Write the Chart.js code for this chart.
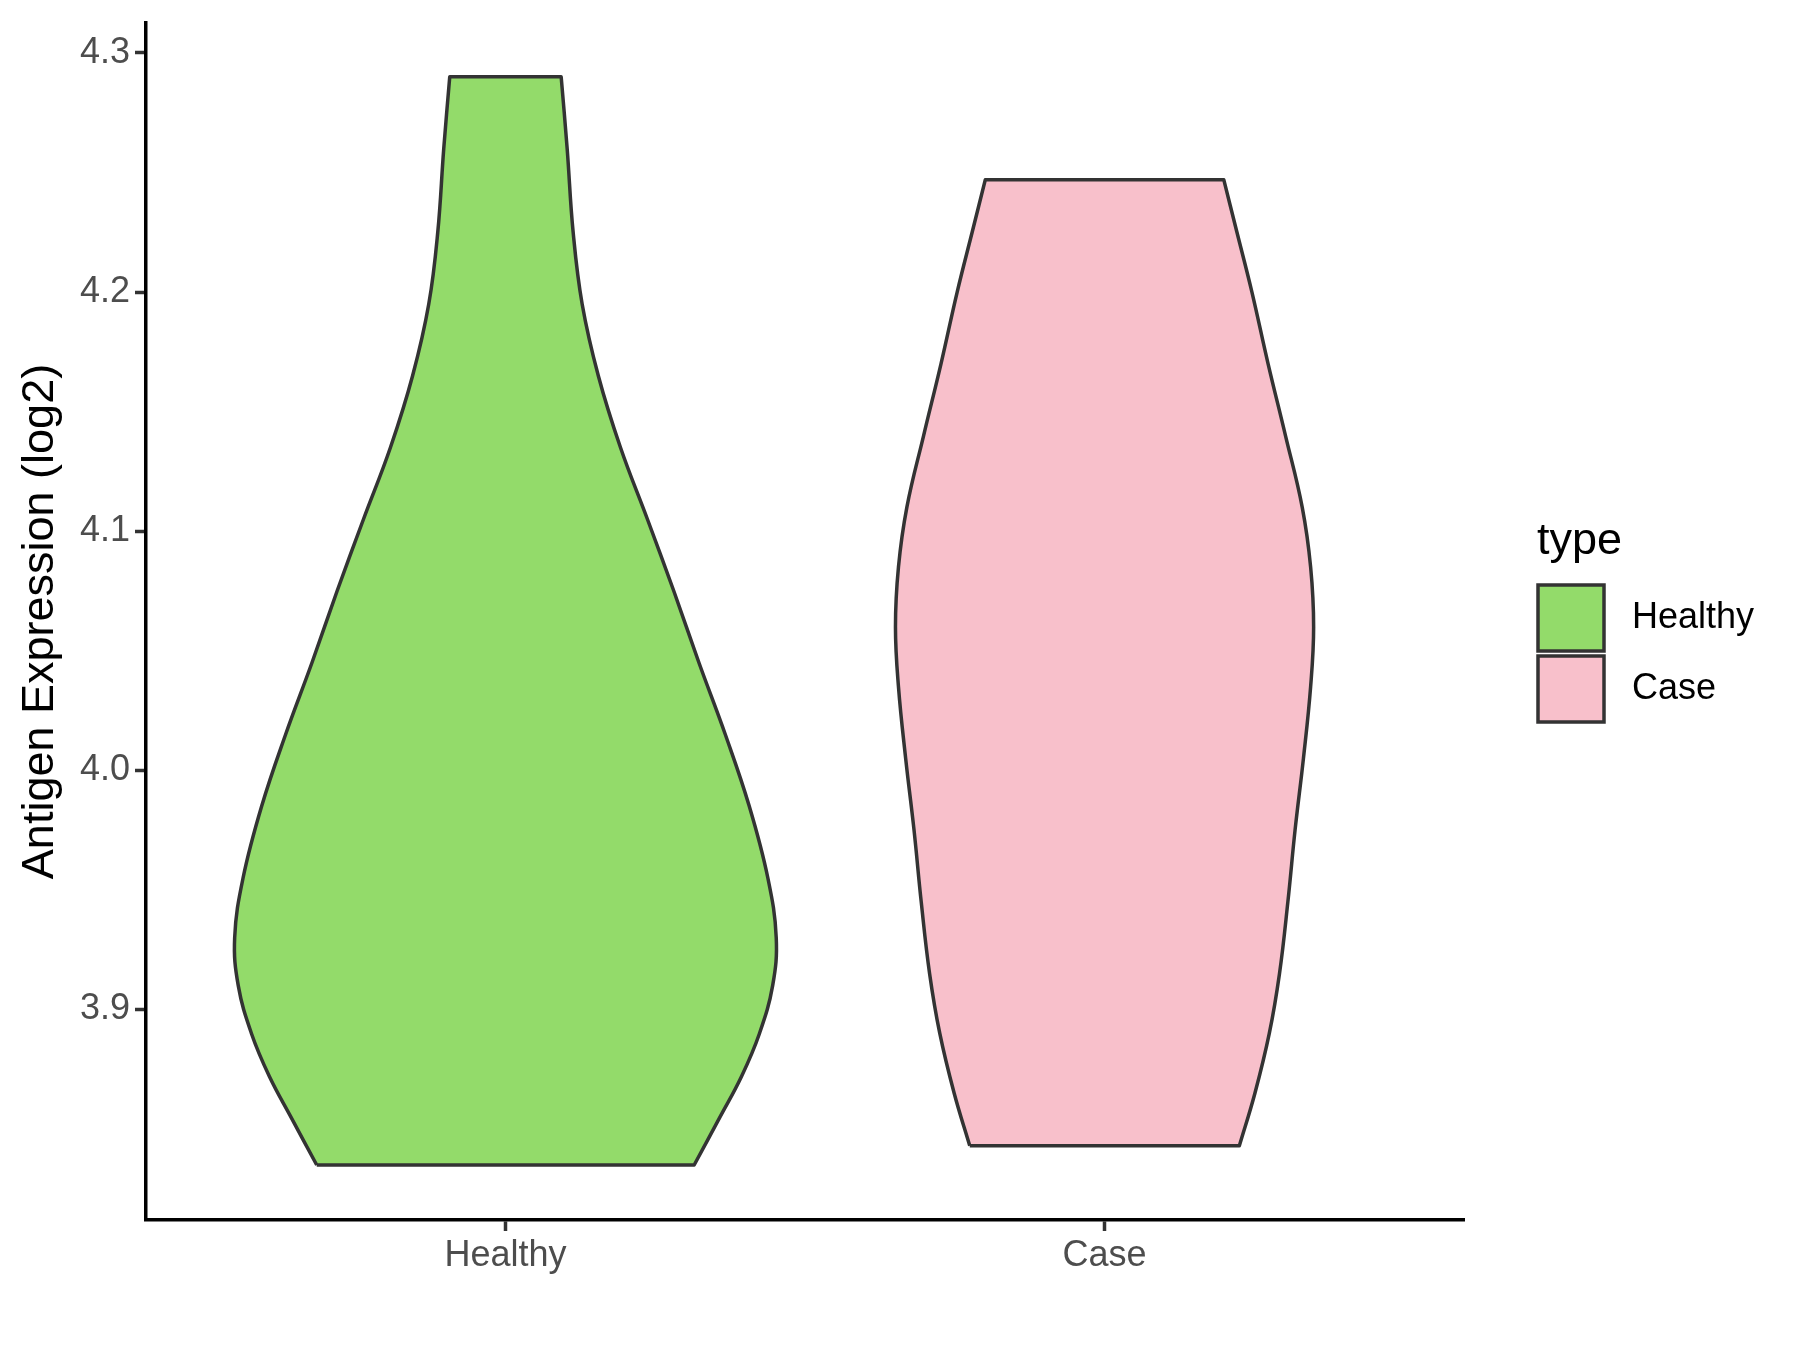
<!DOCTYPE html>
<html>
<head>
<meta charset="utf-8">
<script src="https://cdn.jsdelivr.net/npm/chart.js@4.4.1/dist/chart.umd.min.js"></script>
<style>
html, body { margin: 0; padding: 0; background: white; }
#wrap { width: 1800px; height: 1350px; }
</style>
</head>
<body>
<div id="wrap"><canvas id="violin"></canvas></div>
<script>
const categories = ['Healthy', 'Case'];
const fillColors = ['#93DB6A', '#F8C0CB'];
const yTicks = [3.9, 4.0, 4.1, 4.2, 4.3];

// violin outlines: expression value and half width (in category units)
const healthyY = [3.835, 3.855, 3.872, 3.890, 3.910, 3.930, 3.955, 3.985, 4.015, 4.045, 4.075, 4.105, 4.135, 4.165, 4.195, 4.225, 4.260, 4.290];
const healthyWidth = [0.315, 0.358, 0.394, 0.424, 0.446, 0.452, 0.438, 0.407, 0.367, 0.323, 0.281, 0.237, 0.192, 0.155, 0.128, 0.113, 0.103, 0.093];
const caseY = [3.843, 3.865, 3.890, 3.915, 3.945, 3.975, 4.005, 4.035, 4.060, 4.085, 4.110, 4.140, 4.170, 4.200, 4.225, 4.247];
const caseWidth = [0.225, 0.251, 0.275, 0.292, 0.306, 0.318, 0.332, 0.344, 0.349, 0.344, 0.330, 0.302, 0.273, 0.246, 0.221, 0.199];

const FONT = '"Liberation Sans", Arial, sans-serif';
Chart.defaults.font.family = FONT;

function outline(center, ys, ws) {
    const left = ys.map((y, i) => ({ x: center - ws[i], y: y }));
    const right = ys.map((y, i) => ({ x: center + ws[i], y: y })).reverse();
    const n = ys.length;
    // corners are repeated so the flat ends stay straight with tension on
    return [].concat(left.slice(0, n - 1), [left[n - 1], left[n - 1]],
        [right[0], right[0]], right.slice(1, n - 1), [right[n - 1], right[n - 1]], [left[0]]);
}

const legendPlugin = {
    id: 'typeLegend',
    afterDraw: (chart) => {
        const ctx = chart.ctx;
        ctx.save();
        ctx.fillStyle = 'black';
        ctx.font = '45px ' + FONT;
        ctx.textBaseline = 'alphabetic';
        ctx.fillText('type', 1537, 554);
        categories.forEach((c, i) => {
            const top = 585 + i * 71;
            ctx.fillStyle = fillColors[i];
            ctx.fillRect(1538, top, 66, 66);
            ctx.lineWidth = 3.5;
            ctx.strokeStyle = '#333333';
            ctx.strokeRect(1538, top, 66, 66);
            ctx.fillStyle = 'black';
            ctx.font = '36px ' + FONT;
            ctx.textBaseline = 'middle';
            ctx.fillText(c, 1632, top + 33);
        });
        ctx.restore();
    }
};

new Chart(document.getElementById('violin'), {
    type: 'scatter',
    plugins: [legendPlugin],
    data: {
        datasets: [
            {
                label: categories[0],
                data: outline(1, healthyY, healthyWidth),
                showLine: true,
                fill: 'shape',
                backgroundColor: fillColors[0],
                borderColor: '#333333',
                borderWidth: 3.5,
                borderJoinStyle: 'round',
                tension: 0.4,
                pointRadius: 0,
                pointHoverRadius: 0
            },
            {
                label: categories[1],
                data: outline(2, caseY, caseWidth),
                showLine: true,
                fill: 'shape',
                backgroundColor: fillColors[1],
                borderColor: '#333333',
                borderWidth: 3.5,
                borderJoinStyle: 'round',
                tension: 0.4,
                pointRadius: 0,
                pointHoverRadius: 0
            }
        ]
    },
    options: {
        responsive: true,
        maintainAspectRatio: false,
        animation: false,
        devicePixelRatio: 1,
        layout: {
            padding: { top: 23, right: 336, bottom: 0, left: 0 }
        },
        scales: {
            x: {
                type: 'linear',
                min: 0.4,
                max: 2.6,
                afterBuildTicks: (s) => { s.ticks = categories.map((c, i) => ({ value: i + 1 })); },
                afterFit: (s) => { s.height = 130; s.paddingLeft = 0; s.paddingRight = 0; },
                ticks: {
                    callback: (value, index) => categories[index],
                    color: '#4D4D4D',
                    font: { size: 36 },
                    padding: 3,
                    maxRotation: 0,
                    autoSkip: false
                },
                grid: {
                    display: true,
                    drawOnChartArea: false,
                    drawTicks: true,
                    tickLength: 11,
                    tickColor: '#333333',
                    tickWidth: 3.5
                },
                border: { display: true, color: 'black', width: 3.5 }
            },
            y: {
                min: 3.812,
                max: 4.3125,
                afterBuildTicks: (s) => { s.ticks = yTicks.map(v => ({ value: v })); },
                afterFit: (s) => { s.width = 146; s.paddingTop = 0; s.paddingBottom = 0; },
                ticks: {
                    callback: (value) => value.toFixed(1),
                    color: '#4D4D4D',
                    font: { size: 36 },
                    padding: 5
                },
                grid: {
                    display: true,
                    drawOnChartArea: false,
                    drawTicks: true,
                    tickLength: 11,
                    tickColor: '#333333',
                    tickWidth: 3.5
                },
                border: { display: true, color: 'black', width: 3.5 },
                title: {
                    display: true,
                    text: 'Antigen Expression (log2)',
                    color: 'black',
                    font: { size: 45 },
                    padding: { top: 14, bottom: 0 }
                }
            }
        },
        plugins: {
            legend: { display: false },
            tooltip: { enabled: false }
        }
    }
});
</script>
</body>
</html>
